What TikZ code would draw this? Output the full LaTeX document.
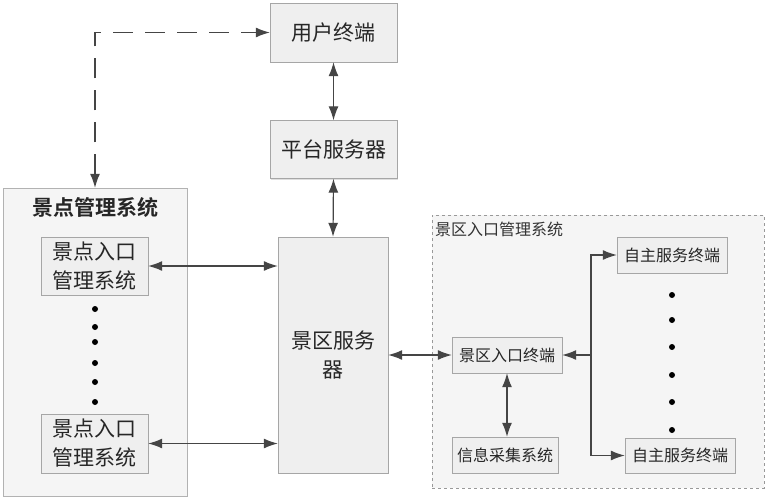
\documentclass[tikz,border=0pt]{standalone}
\usepackage{fontspec}
\setmainfont{Noto Sans CJK SC}[BoldFont={Noto Sans CJK SC Bold}]
\usetikzlibrary{arrows.meta,shadows}
\definecolor{linegray}{HTML}{454545}
\definecolor{boxfill}{HTML}{EFEFEF}
\definecolor{areafill}{HTML}{F5F5F5}
\tikzset{
	blk/.style={draw=black!35, fill=boxfill, text=black!85, inner sep=0pt,
		drop shadow={opacity=.25, shadow xshift=1.2pt, shadow yshift=-1.2pt}},
	bigtxt/.style={font=\fontsize{21}{29}\selectfont, align=center},
	smalltxt/.style={font=\fontsize{16}{20}\selectfont},
	link/.style={linegray, line width=1.2pt, {Latex[length=14pt,width=10pt]}-{Latex[length=14pt,width=10pt]}},
	fwd/.style={linegray, line width=1.2pt, -{Latex[length=14pt,width=10pt]}},
}
\begin{document}
\begin{tikzpicture}[x=1pt, y=-1pt]
		\useasboundingbox (0, 0) rectangle (767, 500);
		% outer areas
		\node[draw=black!30, fill=areafill, minimum width=184, minimum height=308] (spotsys) at (95, 342) {};
		\node[draw=black!40, dashed, fill=areafill, minimum width=332, minimum height=273] (gatesys) at (598, 351.5) {};
		\node[font=\fontsize{21}{25}\selectfont\bfseries, text=black!85] (spottitle) at (95, 207) {景点管理系统};
		\node[smalltxt, text=black!80, anchor=west, inner sep=0pt] (gatetitle) at (435, 229) {景区入口管理系统};
		% main column
		\node[blk, bigtxt, minimum width=127, minimum height=59] (user) at (333.5, 32.5) {用户终端};
		\node[blk, bigtxt, minimum width=127, minimum height=58] (platform) at (333.5, 149.5) {平台服务器};
		\node[blk, bigtxt, minimum width=110, minimum height=236] (areasrv) at (333, 355) {景区服务\\器};
		% spot entrances
		\node[blk, bigtxt, minimum width=107, minimum height=58] (spot1) at (94.5, 266) {景点入口\\管理系统};
		\node[blk, bigtxt, minimum width=107, minimum height=59] (spot2) at (94.5, 443.5) {景点入口\\管理系统};
		% area entrance
		\node[blk, smalltxt, minimum width=110, minimum height=36] (gate) at (507, 355) {景区入口终端};
		\node[blk, smalltxt, minimum width=106, minimum height=36] (info) at (505, 455) {信息采集系统};
		\node[blk, smalltxt, minimum width=110, minimum height=36] (self1) at (672, 255) {自主服务终端};
		\node[blk, smalltxt, minimum width=110, minimum height=35] (self2) at (680, 455.5) {自主服务终端};
		\coordinate (branch) at (591, 355);
		% dots
		\foreach \y in {309, 327, 342, 363, 382, 402}
			\fill (95, \y) circle[radius=3pt];
		\foreach \y in {295, 320, 347, 375, 402, 430}
			\fill (672, \y) circle[radius=3pt];
		% connections
		\draw[link, dash pattern=on 20pt off 12pt] (spotsys.north) |- (user.west);
		\draw[link] (user.south) -- (platform.north);
		\draw[link] (platform.south) -- (areasrv.north);
		\draw[link] (spot1.east) -- (spot1.east -| areasrv.west);
		\draw[link] (spot2.east) -- (spot2.east -| areasrv.west);
		\draw[link] (areasrv.east) -- (gate.west);
		\draw[link] (gate.south) -- (gate.south |- info.north);
		\draw[linegray, line width=1.2pt, {Latex[length=14pt,width=10pt]}-] (gate.east) -- (branch);
		\draw[fwd] (branch) |- (self1.west);
		\draw[fwd] (branch) |- (self2.west);
\end{tikzpicture}
\end{document}
